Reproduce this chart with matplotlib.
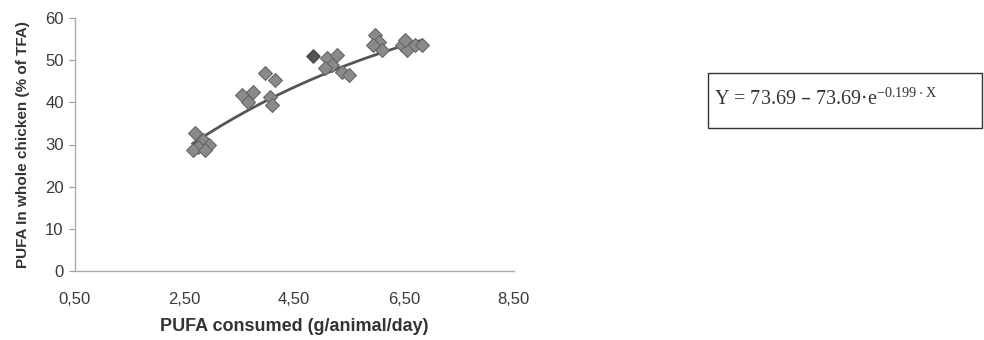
import numpy as np
import matplotlib.pyplot as plt
from matplotlib.patches import Rectangle

# PUFA consumed (g/animal/day) vs PUFA in whole chicken (% of TFA)
x_vals = [2.70, 2.83, 2.74, 2.95, 2.65, 2.88,
          3.55, 3.74, 3.65, 4.05, 4.10, 3.97, 4.15,
          5.10, 5.19, 5.28, 5.37, 5.50, 5.06,
          5.97, 6.05, 6.10, 5.94,
          6.46, 6.55, 6.70, 6.83, 6.52]
y_vals = [32.7, 31.0, 29.4, 29.9, 28.7, 28.7,
          41.7, 42.4, 40.0, 41.2, 39.3, 46.9, 45.3,
          50.5, 48.8, 51.2, 47.2, 46.4, 48.1,
          55.9, 54.3, 52.4, 53.6,
          53.6, 52.4, 53.6, 53.6, 54.7]
# one darker point
dark_x = [4.85]
dark_y = [50.9]

# fitted curve Y = a - a*exp(-k*X), as printed on the chart
a = 73.69
k = 0.199

x_ticks = [0.5, 2.5, 4.5, 6.5, 8.5]
x_tick_labels = ['0,50', '2,50', '4,50', '6,50', '8,50']
y_ticks = [0, 10, 20, 30, 40, 50, 60]

plt.rcParams['font.family'] = ['Liberation Sans', 'DejaVu Sans']

fig = plt.figure(figsize=(9.84, 3.4), dpi=100)
ax = fig.add_axes([0.076, 0.203, 0.446, 0.744])

ax.scatter(x_vals, y_vals, marker='D', s=50, color='#8a8a8a',
           edgecolor='#666666', linewidth=0.8, zorder=3)
ax.scatter(dark_x, dark_y, marker='D', s=45, color='#555555',
           edgecolor='#444444', zorder=4)

xs = np.linspace(min(x_vals), max(x_vals), 100)
ax.plot(xs, a - a * np.exp(-k * xs), color='#555555', linewidth=2, zorder=2)

ax.set_xlim(0.5, 8.5)
ax.set_ylim(0, 60)
ax.set_xticks(x_ticks)
ax.set_xticklabels(x_tick_labels)
ax.set_yticks(y_ticks)
ax.tick_params(axis='x', length=0, pad=15, labelsize=12, colors='#3a3a3a')
ax.tick_params(axis='y', length=4, width=0.8, pad=4, labelsize=12,
               colors='#3a3a3a', color='#999999')

for side in ['top', 'right']:
    ax.spines[side].set_visible(False)
for side in ['left', 'bottom']:
    ax.spines[side].set_color('#aaaaaa')
    ax.spines[side].set_linewidth(1)

ax.set_xlabel('PUFA consumed (g/animal/day)', fontsize=13, fontweight='bold',
              color='#333333', labelpad=8)
ax.set_ylabel('PUFA In whole chicken (% of TFA)', fontsize=11,
              fontweight='bold', color='#333333', labelpad=11)

# equation box
fig.patches.append(Rectangle((708 / 984, 1 - 128 / 340), 274 / 984, 55 / 340,
                             transform=fig.transFigure, fill=False,
                             edgecolor='#333333', linewidth=1))
fig.text(714 / 984, 1 - 99 / 340,
         r'Y = 73.69 – 73.69$\cdot$e$^{\mathregular{-0.199\cdot X}}$',
         fontsize=14.5, family='Liberation Serif', color='#333333',
         va='center', ha='left')

fig.savefig('out.png', dpi=100)
